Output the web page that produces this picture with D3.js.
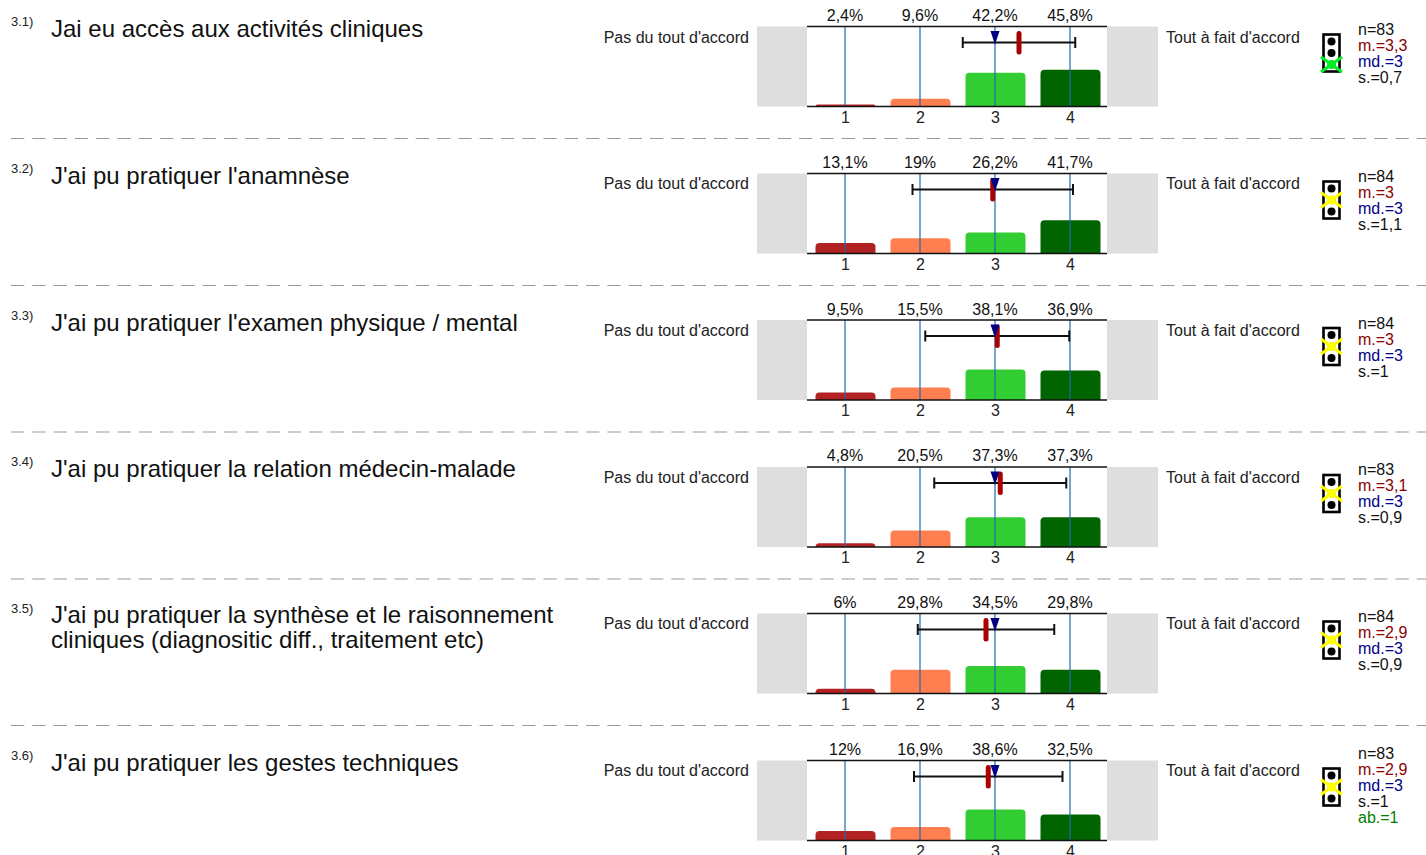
<!DOCTYPE html>
<html><head><meta charset="utf-8">
<script src="https://cdn.jsdelivr.net/npm/d3@7"></script>
<style>html,body{margin:0;padding:0;background:#fff;overflow:hidden}svg{display:block}text{font-family:"Liberation Sans",Arial,sans-serif}</style>
</head><body><svg id="c" width="1426" height="855"></svg>
<script>
const numbers=["3.1)","3.2)","3.3)","3.4)","3.5)","3.6)"];
const titles=[["Jai eu accès aux activités cliniques"],["J'ai pu pratiquer l'anamnèse"],["J'ai pu pratiquer l'examen physique / mental"],["J'ai pu pratiquer la relation médecin-malade"],["J'ai pu pratiquer la synthèse et le raisonnement","cliniques (diagnositic diff., traitement etc)"],["J'ai pu pratiquer les gestes techniques"]];
const categories=[1,2,3,4];
const pct=[[2.4,9.6,42.2,45.8],[13.1,19,26.2,41.7],[9.5,15.5,38.1,36.9],[4.8,20.5,37.3,37.3],[6,29.8,34.5,29.8],[12,16.9,38.6,32.5]];
const labels=[["2,4%","9,6%","42,2%","45,8%"],["13,1%","19%","26,2%","41,7%"],["9,5%","15,5%","38,1%","36,9%"],["4,8%","20,5%","37,3%","37,3%"],["6%","29,8%","34,5%","29,8%"],["12%","16,9%","38,6%","32,5%"]];
const means=[3.32,2.97,3.03,3.07,2.88,2.91];
const medians=[3,3,3,3,3,3];
const sds=[0.75,1.07,0.96,0.88,0.91,0.99];
const stats=[["n=83","m.=3,3","md.=3","s.=0,7"],["n=84","m.=3","md.=3","s.=1,1"],["n=84","m.=3","md.=3","s.=1"],["n=83","m.=3,1","md.=3","s.=0,9"],["n=84","m.=2,9","md.=3","s.=0,9"],["n=83","m.=2,9","md.=3","s.=1","ab.=1"]];
const lights=["green","yellow","yellow","yellow","yellow","yellow"];
const barColors=["#b22222","#ff7f50","#32cd32","#006400"];
const statColors=["#111","#8b0000","#00008b","#111","#008000"];
const leftLabel="Pas du tout d'accord", rightLabel="Tout à fait d'accord";

const svg=d3.select("#c");
const x=d3.scaleLinear().domain([1,4]).range([845,1070]);
const h=d3.scaleLinear().domain([0,100]).range([0,80]);
const rowY=d3.scaleLinear().domain([0,5]).range([26.5,760.3]);
const labelY=d3.scaleLinear().domain([0,5]).range([26.5,760]);
const txt=(g,X,Y,s,size,fill,anchor)=>g.append("text").attr("x",X).attr("y",Y).text(s).attr("font-size",size).attr("fill",fill||"#111").attr("text-anchor",anchor||"start");

titles.forEach((t,i)=>{
  const top=Math.round(rowY(i)*2)/2, g=svg.append("g"), bottom=top+80;
  const tb=Math.floor(rowY(i)), lt=Math.round(labelY(i));
  txt(g,11,tb,numbers[i],13,"#222");
  t.forEach((l,j)=>txt(g,51,tb+11+j*25-(t.length>1?1:0),l,24,"#111"));
  txt(g,749,lt+16,leftLabel,16,"#222","end");
  txt(g,1166,lt+16,rightLabel,16,"#222");
  // grey side panels
  g.append("rect").attr("x",757).attr("y",top).attr("width",50).attr("height",80).attr("fill","#dedede");
  g.append("rect").attr("x",1107).attr("y",top).attr("width",51).attr("height",80).attr("fill","#dedede");
  // bars
  categories.forEach((c,k)=>{
    const bh=h(pct[i][k]);
    const r=Math.min(4,bh);
    g.append("path").attr("fill",barColors[k])
      .attr("d",`M${x(c)-29.5},${bottom}V${bottom-bh+r}Q${x(c)-29.5},${bottom-bh} ${x(c)-29.5+r},${bottom-bh}H${x(c)+30.5-r}Q${x(c)+30.5},${bottom-bh} ${x(c)+30.5},${bottom-bh+r}V${bottom}Z`);
    g.append("line").attr("x1",x(c)).attr("x2",x(c)).attr("y1",top).attr("y2",bottom).attr("stroke","#1f69ad").attr("stroke-width",1.2);
    txt(g,x(c),tb-5,labels[i][k],16,"#111","middle");
  });
  // frame lines
  [top,bottom].forEach(y=>g.append("line").attr("x1",807).attr("x2",1107).attr("y1",y).attr("y2",y).attr("stroke","#111").attr("stroke-width",1.3));
  // axis
  const ax=g.append("g").attr("transform",`translate(0,${bottom})`).call(d3.axisBottom(x).tickValues(categories).tickSize(0).tickPadding(5).tickFormat(d3.format("d")));
  ax.select(".domain").remove();
  ax.selectAll("text").attr("font-size",16).attr("fill","#222").attr("font-family",'"Liberation Sans",Arial,sans-serif');
  // whisker
  const wy=top+16, lo=x(means[i]-sds[i]), hi=x(means[i]+sds[i]);
  g.append("line").attr("x1",lo).attr("x2",hi).attr("y1",wy).attr("y2",wy).attr("stroke","#111").attr("stroke-width",2);
  [lo,hi].forEach(v=>g.append("line").attr("x1",v).attr("x2",v).attr("y1",wy-5.5).attr("y2",wy+5.5).attr("stroke","#111").attr("stroke-width",2));
  // mean
  g.append("rect").attr("x",x(means[i])-2.5).attr("y",top+4.5).attr("width",5).attr("height",23.5).attr("rx",2.5).attr("fill","#aa0000");
  // median
  const mx=x(medians[i]);
  g.append("path").attr("d",`M${mx-4.5},${top+4.5}H${mx+4.5}L${mx},${top+18}Z`).attr("fill","#000080");
  // traffic light
  const ly=top+7;
  g.append("rect").attr("x",1323.5).attr("y",ly+1).attr("width",16).attr("height",37).attr("fill","#fff").attr("stroke","#000").attr("stroke-width",2.6);
  const cys=[8,19.5,31];
  cys.forEach(d=>g.append("circle").attr("cx",1331.5).attr("cy",ly+d).attr("r",4).attr("fill","#000"));
  const cy=ly+(lights[i]==="green"?cys[2]:cys[1]), col=lights[i]==="green"?"#00ee22":"#ffff00";
  [[-10.5,-7.5,10.5,7.5],[-10.5,7.5,10.5,-7.5]].forEach(p=>g.append("line").attr("x1",1331.5+p[0]).attr("x2",1331.5+p[2]).attr("y1",cy+p[1]).attr("y2",cy+p[3]).attr("stroke",col).attr("stroke-width",3));
  g.append("circle").attr("cx",1331.5).attr("cy",cy).attr("r",4.5).attr("fill",col);
  // stats
  const sy=stats[i].length>4?-1:9;
  stats[i].forEach((s,j)=>txt(g,1358,tb+sy+j*16,s,16,statColors[j]));
  // separator
  if(i<5) g.append("line").attr("x1",11).attr("x2",1426).attr("y1",top+112).attr("y2",top+112).attr("stroke","#999").attr("stroke-width",1).attr("stroke-dasharray","13.3 8");
});
</script></body></html>
